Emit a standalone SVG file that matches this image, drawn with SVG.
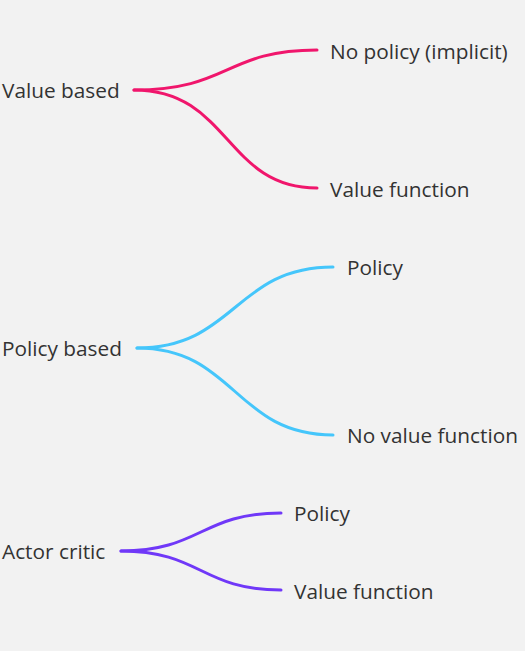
<svg xmlns="http://www.w3.org/2000/svg" width="525" height="651" viewBox="0 0 525 651">
<style>
text{font-family:"Open Sans","Noto Sans","Liberation Sans",sans-serif;font-size:20.8px;fill:#333;dominant-baseline:central}
.c{fill:none;stroke-width:3;stroke-linecap:round}
.pink{stroke:#f0166c}.cyan{stroke:#45c6fb}.purple{stroke:#7038f8}
</style>
<rect width="525" height="651" fill="#f2f2f2"/>
<g id="connectors">
<path class="c pink" d="M134,90 C230,90 225,50 317,50"/>
<path class="c pink" d="M134,90 C230,90 225,188 317,188"/>
<path class="c cyan" d="M137,348 C235,348 235,267 333,267"/>
<path class="c cyan" d="M137,348 C235,348 235,435 333,435"/>
<path class="c purple" d="M121,551 C201,551 201,513 281,513"/>
<path class="c purple" d="M121,551 C201,551 201,590 281,590"/>
</g>
<g id="value-based"><text x="2" y="90">Value based</text></g>
<g id="no-policy"><text x="330" y="51">No policy (implicit)</text></g>
<g id="value-function-1"><text x="330" y="189">Value function</text></g>
<g id="policy-based"><text x="2" y="348">Policy based</text></g>
<g id="policy-1"><text x="347" y="267">Policy</text></g>
<g id="no-value-function"><text x="347" y="435">No value function</text></g>
<g id="actor-critic"><text x="2" y="551">Actor critic</text></g>
<g id="policy-2"><text x="294" y="513">Policy</text></g>
<g id="value-function-2"><text x="294" y="591">Value function</text></g>
</svg>
